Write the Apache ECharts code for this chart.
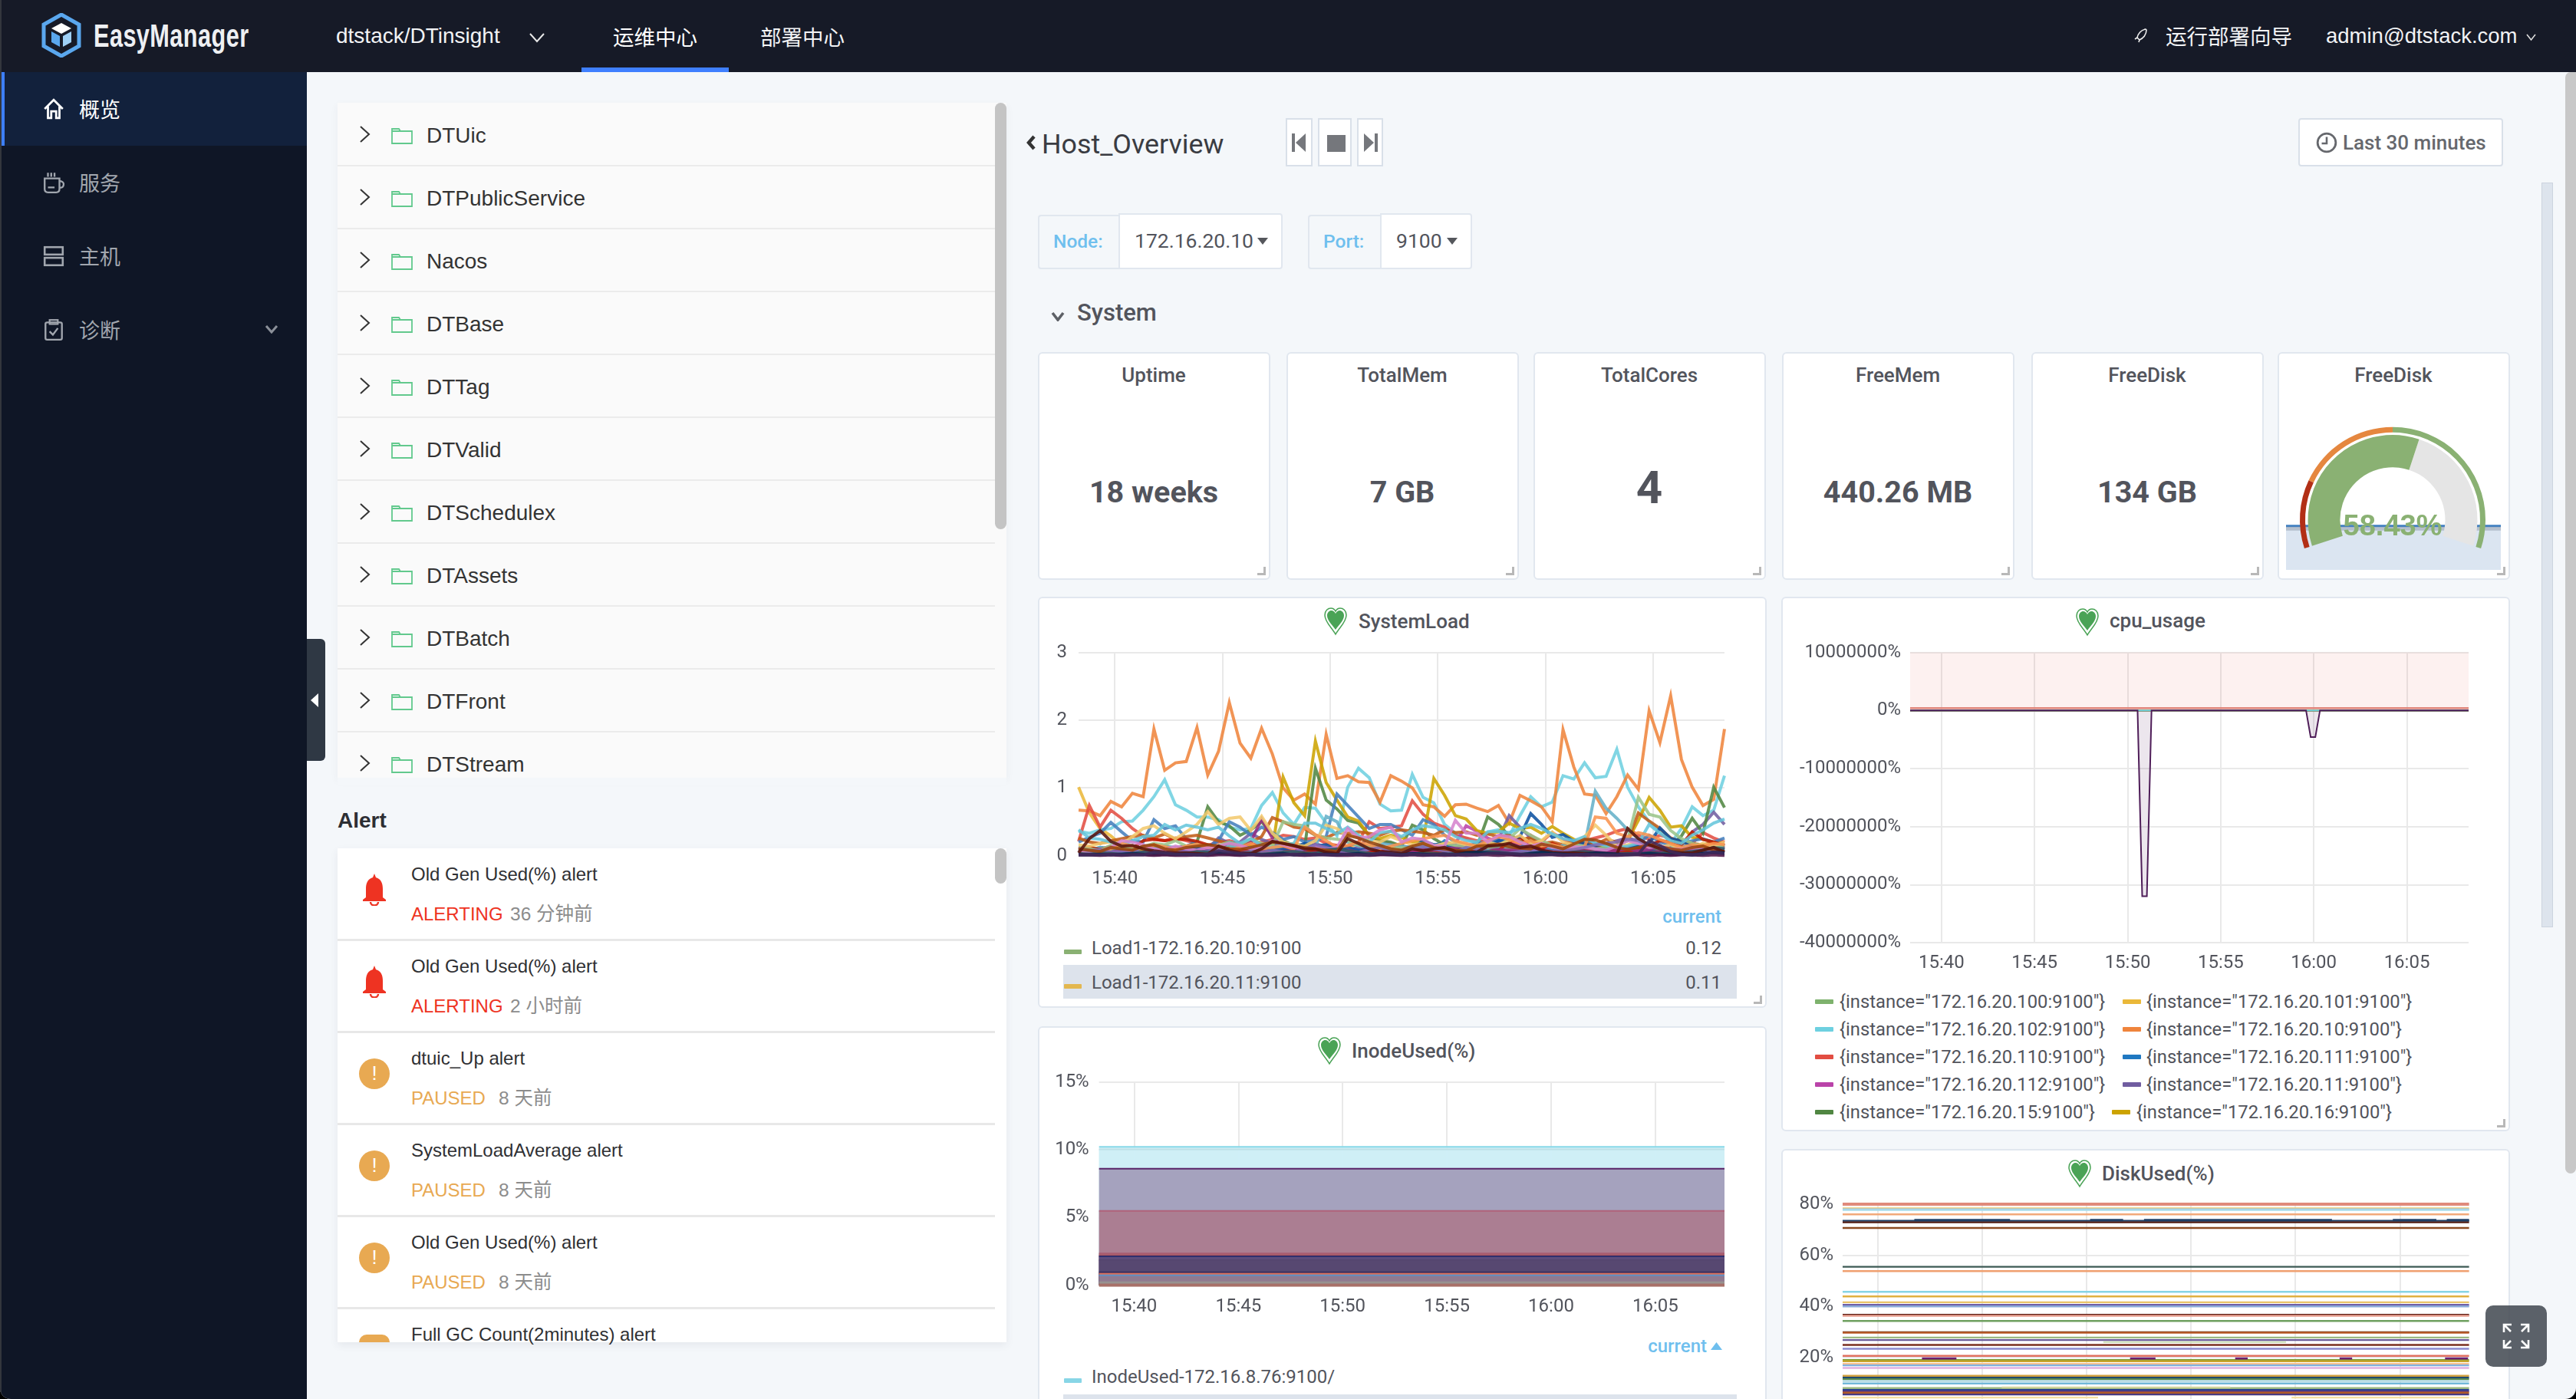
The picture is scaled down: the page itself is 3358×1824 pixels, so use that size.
<!DOCTYPE html>
<html><head><meta charset="utf-8">
<style>
html,body{margin:0;padding:0;background:#000;overflow:hidden}
#page{position:relative;width:3358px;height:1824px;overflow:hidden;background:#f4f7fa;font-family:"Liberation Sans","Noto Sans CJK SC",sans-serif;border-bottom-left-radius:14px;border-bottom-right-radius:14px}
.a{position:absolute;box-sizing:border-box}
.t{position:absolute;white-space:nowrap;line-height:1.2}
#chart{position:absolute;left:0;top:0;width:3358px;height:1824px;z-index:5}
</style>
<script src="https://cdn.jsdelivr.net/npm/echarts@6/dist/echarts.min.js"></script>
</head><body><div id="page"><div id="chart"></div></div>
<script>
// ---------- text content ----------
const navTabs = ['运维中心','部署中心'];
const sideItems = ['概览','服务','主机','诊断'];
const treeItems = ['DTUic','DTPublicService','Nacos','DTBase','DTTag','DTValid','DTSchedulex','DTAssets','DTBatch','DTFront','DTStream'];
const alertTitles = ['Old Gen Used(%) alert','Old Gen Used(%) alert','dtuic_Up alert','SystemLoadAverage alert','Old Gen Used(%) alert','Full GC Count(2minutes) alert'];
const alertStates = ['ALERTING','ALERTING','PAUSED','PAUSED','PAUSED','PAUSED'];
const alertAges = ['36 分钟前','2 小时前','8 天前','8 天前','8 天前',''];
const statTitles = ['Uptime','TotalMem','TotalCores','FreeMem','FreeDisk','FreeDisk'];
const statValues = ['18 weeks','7 GB','4','440.26 MB','134 GB'];
const cpuLegend = ['{instance="172.16.20.100:9100"}','{instance="172.16.20.101:9100"}','{instance="172.16.20.102:9100"}','{instance="172.16.20.10:9100"}','{instance="172.16.20.110:9100"}','{instance="172.16.20.111:9100"}','{instance="172.16.20.112:9100"}','{instance="172.16.20.11:9100"}','{instance="172.16.20.15:9100"}','{instance="172.16.20.16:9100"}'];
const loadLegend = ['Load1-172.16.20.10:9100','Load1-172.16.20.11:9100'];
const loadCurrent = ['0.12','0.11'];
const inodeLegend = ['InodeUsed-172.16.8.76:9100/'];
const xTickTimes = ['15:40:00','15:45:00','15:50:00','15:55:00','16:00:00','16:05:00'];

// ---------- SystemLoad values, one list per host, 30 s apart ----------
const load00=[.08,.06,.05,.08,.10,.07,.12,.09,.14,.10,.06,.08,.05,.07,.12,.09,.06,.10,.08,.05,.07,.10,.06,.08,.12,.07,.05,.09,.06,.08,.10,.06,.12,.08,.05,.07,.09,.06,.10,.08,.06,.05,.08,.14,.10,.06,.07,.05,.09,.06,.08,.12,.07,.05,.09,.06,.10,.12,.12,.08,.12];
const load01=[1.01,.63,.40,.29,.15,.12,.10,.12,.09,.10,.08,.10,.12,.09,.14,.16,.12,.10,.12,.15,.18,.14,.12,.10,.15,.12,.18,.14,.10,.12,.09,.10,.14,.12,.10,.08,.10,.12,.15,.10,.12,.14,.10,.08,.12,.10,.14,.12,.10,.08,.15,.10,.12,.14,.10,.12,.09,.10,.16,.14,.12];
const load02=[.36,.33,.38,.40,.50,.51,.67,.87,1.12,.75,.67,.57,.57,.53,.42,.38,.40,.74,.93,.63,.46,.71,.70,.48,.29,1.01,1.29,1.15,.76,.66,.67,1.20,.86,.78,.46,.33,.25,.18,.35,.38,.29,.59,.87,.72,.79,1.18,1.13,1.37,1.15,1.17,1.57,1.01,.72,.50,.37,.18,.40,.72,.59,.67,1.18];
const load03=[.67,.66,.59,.80,.72,.92,.87,1.87,1.26,1.37,1.39,1.89,1.19,1.54,2.26,1.66,1.44,1.88,1.50,1.00,.82,.91,.76,1.79,1.14,1.18,1.09,1.08,.79,1.18,1.10,1.00,.75,.72,.58,.75,.76,.70,.65,.74,.48,.89,.81,.72,.50,1.86,1.31,.91,.89,.62,.87,1.19,.98,2.14,1.67,2.36,1.42,1.01,.74,.83,1.87];
const load04=[.21,.74,.42,.67,.55,.40,.29,.24,.22,.26,.22,.18,.15,.20,.22,.18,.16,.20,.24,.30,.28,.24,.26,.18,.15,.14,.20,.50,.40,.42,.44,.81,.61,.48,.42,.30,.26,.22,.20,.18,.22,.16,.30,.20,.34,.24,.18,.22,.26,.30,.36,.40,.30,.24,.30,.26,.20,.18,.34,.26,.20];
const load05=[.09,.07,.12,.10,.06,.08,.05,.09,.07,.11,.06,.05,.08,.12,.09,.06,.10,.07,.05,.08,.06,.09,.12,.07,.10,.05,.08,.06,.11,.07,.09,.05,.07,.10,.22,.13,.08,.06,.07,.10,.05,.08,.06,.09,.07,.12,.10,.06,.05,.08,.07,.10,.06,.08,.11,.07,.09,.06,.05,.10,.08];
const load06=[.10,.13,.07,.05,.06,.08,.06,.08,.10,.06,.05,.08,.06,.10,.09,.07,.12,.08,.06,.09,.10,.14,.08,.06,.10,.07,.12,.09,.06,.08,.10,.07,.14,.09,.12,.18,.44,.36,.26,.20,.18,.14,.08,.10,.06,.08,.07,.05,.06,.09,.08,.12,.10,.14,.08,.10,.12,.08,.06,.07,.14];
const load07=[.08,.06,.10,.07,.09,.08,.06,.10,.09,.12,.14,.20,.10,.26,.18,.20,.33,.24,.18,.12,.15,.10,.18,.12,.10,.08,.12,.28,.22,.18,.14,.12,.15,.10,.12,.13,.14,.12,.16,.24,.59,.42,.26,.20,.14,.10,.12,.09,.13,.18,.22,.26,.22,.14,.12,.08,.10,.35,.46,.64,.46];
const load08=[.06,.05,.08,.07,.05,.06,.08,.07,.09,.10,.12,.20,.72,.50,.44,.30,.38,.50,.30,.22,.15,.12,1.29,.82,.69,.52,.48,.30,.22,.20,.14,.45,.38,.25,.16,.14,.12,.13,.57,.46,.29,.20,.24,.16,.12,.10,.09,.08,.10,.09,.08,.10,.15,.12,.10,.14,.29,.55,.33,1.01,.71];
const load09=[.08,.12,.10,.09,.07,.06,.10,.14,.09,.08,.11,.13,.10,.09,.07,.12,.15,.11,.09,1.16,.78,.59,1.69,1.08,.82,.57,.51,.29,.25,.30,.27,.20,.22,1.14,.89,.59,.54,.37,.33,.35,.48,.40,.42,.33,.43,.33,.24,.20,.16,.14,.18,.22,.52,.86,.67,.42,.44,.27,.24,.20,.18];
const load10=[.20,.27,.33,.49,.35,.22,.20,.53,.40,.44,.25,.18,.12,.22,.50,.42,.30,.42,.34,.24,.28,.20,.22,.28,.91,.74,.57,.40,.46,.46,.38,.30,.53,.46,.30,.20,.14,.18,.20,.22,.16,.12,.20,.14,.10,.12,.15,.20,.18,.16,.14,.12,.18,.30,.20,.15,.18,.22,.25,.20,.26];
const load11=[.26,.20,.18,.22,.25,.28,.30,.26,.32,.24,.28,.30,.26,.22,.18,.15,.20,.28,.56,.50,.42,.40,.30,.26,.34,.33,.35,.33,.30,.36,.38,.36,.34,.30,.38,.34,.35,.30,.32,.28,.30,.24,.26,.18,.20,.16,.22,.18,.16,.24,.20,.22,.63,.51,.40,.26,.20,.18,.16,.20,.14];
const load13=[.02,.03,.02,.04,.03,.02,.03,.05,.03,.02,.03,.02,.04,.03,.05,.02,.03,.06,.04,.03,.05,.03,.02,.04,.03,.05,.03,.02,.03,.02,.04,.03,.02,.05,.03,.02,.03,.06,.05,.04,.03,.02,.05,.03,.02,.04,.03,.02,.03,.05,.03,.02,.04,.03,.02,.03,.02,.03,.05,.04,.03];
const load14=[.07,.06,.04,.03,.05,.04,.03,.06,.04,.03,.05,.04,.03,.05,.07,.05,.04,.06,.08,.05,.04,.03,.06,.12,.09,.05,.03,.04,.06,.05,.03,.06,.05,.04,.03,.05,.07,.04,.06,.05,.07,.05,.03,.04,.06,.03,.05,.04,.03,.04,.03,.05,.04,.06,.05,.04,.03,.05,.07,.10,.12];
const load26=[.10,.08,.12,.09,.10,.08,.12,.10,.14,.12,.10,.14,.08,.12,.15,.10,.12,.14,.09,.12,.15,.10,.12,.58,.50,.20,.14,.12,.18,.16,.14,.12,.10,.16,.12,.14,.10,.12,.09,.14,.12,.10,.14,.16,.12,.15,.10,.14,.95,.70,.55,.38,.25,.14,.12,.10,.16,.12,.10,.14,.12];
const load28=[.10,.12,.09,.14,.12,.10,.22,.24,.22,.24,.24,.21,.16,.12,.10,.08,.10,.06,.08,.07,.05,.06,.09,.07,.10,.06,.05,.08,.06,.05,.07,.09,.06,.05,.08,.10,.07,.09,.06,.08,.20,.28,.15,.10,.18,.12,.09,.07,.12,.10,.08,.06,.10,.14,.22,.20,.16,.35,.24,.20,.15];
const load29=[.05,.04,.06,.05,.04,.05,.04,.06,.08,.05,.12,.10,.14,.10,.20,.16,.10,.12,.08,.10,.12,.18,.14,.16,.10,.12,.08,.10,.14,.10,.08,.10,.22,.16,.18,.10,.09,.14,.12,.22,.24,.28,.62,.46,.27,.31,.21,.18,.12,.10,.14,.12,.16,.18,.41,.25,.22,.15,.12,.10,.08];
const load30=[.12,.09,.06,.05,.08,.06,.05,.07,.06,.05,.08,.06,.10,.12,.08,.10,.20,.54,.26,.14,.10,.08,.16,.10,.06,.08,.05,.10,.12,.08,.07,.06,.09,.08,.10,.12,.14,.10,.12,.09,.08,.10,.12,.07,.05,.06,.09,.07,.05,.06,.08,.10,.07,.09,.14,.10,.07,.06,.09,.15,.18];
const load32=[.12,.10,.08,.15,.12,.10,.13,.18,.16,.22,.14,.16,.12,.15,.20,.16,.25,.18,.14,.50,.46,.44,.30,.26,.24,.22,.16,.14,.12,.10,.12,.10,.16,.14,.18,.15,.14,.16,.12,.14,.25,.40,.30,.22,.15,.12,.16,.14,.10,.12,.15,.22,.86,.61,.57,.37,.25,.18,.14,.12,.16];
const load33=[.16,.14,.18,.20,.16,.28,.40,.44,.33,.25,.35,.46,.65,.46,.55,.57,.37,.58,.33,.20,.16,.14,.22,.45,.40,.28,.30,.22,.20,.28,.22,.16,.18,.14,.18,.20,.16,.12,.20,.16,.22,.30,.18,.22,.35,.20,.16,.28,.45,.30,.14,.16,.20,.14,.12,.16,.10,.12,.18,.14,.20];
const load34=[.38,.26,.24,.20,.16,.22,.28,.30,.46,.38,.45,.42,.38,.42,.29,.18,.25,.15,.12,.16,.18,.48,.48,.40,.32,.42,.30,.20,.34,.36,.28,.38,.44,.42,.38,.28,.22,.20,.35,.36,.34,.40,.46,.40,.32,.25,.22,.28,.18,.15,.12,.14,.18,.46,.33,.22,.18,.30,.38,.48,.54];
const load35=[.05,.08,.06,.10,.18,.14,.10,.16,.13,.10,.14,.17,.12,.10,.08,.12,.18,.10,.12,.14,.10,.42,.31,.22,.12,.15,.20,.16,.10,.14,.18,.22,.25,.28,.30,.22,.18,.14,.22,.28,.24,.18,.22,.14,.16,.12,.10,.13,.57,.55,.33,.28,.34,.30,.24,.18,.12,.16,.14,.18,.16];
const load38=[.05,.04,.06,.12,.22,.20,.16,.10,.08,.14,.10,.08,.12,.14,.18,.15,.10,.12,.22,.16,.12,.10,.14,.10,.12,.40,.26,.28,.38,.42,.20,.26,.24,.15,.14,.52,.33,.33,.20,.30,.28,.20,.14,.18,.12,.10,.13,.12,.10,.08,.14,.22,.18,.12,.14,.10,.09,.12,.10,.08,.10];
const load39=[.10,.07,.09,.05,.06,.08,.04,.03,.04,.05,.06,.04,.07,.09,.05,.04,.06,.05,.08,.06,.05,.10,.16,.12,.08,.06,.05,.09,.12,.07,.06,.10,.14,.09,.07,.05,.12,.10,.06,.05,.04,.06,.08,.05,.06,.07,.09,.12,.16,.18,.20,.24,.22,.15,.10,.07,.05,.06,.08,.07,.09];
const load42=[.03,.02,.04,.03,.02,.03,.05,.04,.03,.02,.03,.06,.05,.04,.02,.03,.04,.02,.03,.05,.06,.04,.03,.08,.10,.07,.05,.03,.02,.04,.03,.02,.04,.03,.02,.03,.05,.04,.06,.05,.03,.02,.03,.04,.02,.03,.05,.06,.04,.03,.02,.03,.02,.04,.03,.05,.04,.06,.08,.12,.10];
const load43=[.10,.08,.06,.12,.10,.08,.14,.16,.10,.08,.12,.14,.16,.14,.10,.09,.12,.16,.20,.18,.14,.12,.10,.08,.06,.30,.26,.20,.15,.10,.08,.14,.18,.12,.10,.08,.07,.14,.15,.17,.13,.11,.10,.17,.14,.10,.17,.24,.23,.18,.12,.09,.12,.16,.13,.10,.08,.12,.14,.08,.06];
const load44=[.04,.25,.37,.21,.14,.15,.10,.07,.05,.04,.04,.03,.02,.14,.08,.04,.03,.10,.21,.18,.15,.10,.10,.05,.03,.25,.18,.10,.06,.05,.03,.10,.07,.10,.12,.06,.05,.05,.14,.15,.18,.12,.14,.08,.05,.04,.04,.03,.03,.03,.02,.40,.25,.16,.10,.06,.04,.04,.08,.12,.05];
const load45=[.01,.01,.02,.01,.02,.03,.02,.01,.02,.01,.02,.01,.01,.03,.02,.01,.02,.01,.02,.03,.01,.02,.01,.02,.01,.02,.03,.01,.02,.01,.01,.03,.02,.01,.02,.01,.04,.05,.04,.03,.02,.01,.03,.05,.03,.02,.01,.02,.04,.03,.02,.01,.02,.03,.02,.01,.02,.01,.03,.05,.04];
const load46=[.01,.01,.00,.01,.00,.01,.01,.00,.01,.00,.00,.01,.00,.01,.01,.00,.01,.00,.00,.01,.01,.00,.01,.01,.00,.00,.01,.00,.01,.01,.00,.01,.00,.01,.00,.01,.00,.01,.01,.00,.01,.00,.00,.01,.01,.00,.01,.00,.01,.00,.00,.01,.01,.00,.01,.00,.01,.01,.00,.01,.00];
const load47=[.01,.01,.01,.02,.01,.01,.01,.05,.04,.02,.02,.01,.02,.07,.05,.03,.02,.01,.01,.01,.02,.01,.02,.01,.01,.02,.01,.01,.04,.03,.01,.02,.01,.01,.02,.01,.02,.01,.03,.04,.03,.02,.01,.01,.02,.01,.01,.02,.01,.01,.01,.02,.02,.22,.15,.06,.02,.01,.02,.05,.03];
const loadValues=[load00,load01,load02,load03,load04,load05,load06,load07,load08,load09,load10,load11,load13,load14,load26,load28,load29,load30,load32,load33,load34,load35,load38,load39,load42,load43,load44,load45,load46,load47];
const loadColors=['#7EB26D','#EAB839','#6ED0E0','#EF843C','#E24D42','#1F78C1','#BA43A9','#705DA0','#508642','#CCA300','#447EBC','#C15C17','#0A437C','#6D1F62','#64B0C8','#BF1B00','#0A50A1','#962D82','#9AC48A','#F2C96D','#65C5DB','#F9934E','#D683CE','#806EB7','#2F575E','#99440A','#58140C','#052B51','#511749','#3F2B5B'];

// ---------- cpu_usage ----------
const cpuFlatValue=[0,0];
const cpuFlatTimes=['15:38:19','16:08:19'];
const cpuColors=['#7EB26D','#EAB839','#6ED0E0','#EF843C','#E24D42','#1F78C1','#BA43A9','#705DA0','#508642','#CCA300'];
const cpuDrawOrder=[0,1,3,4,5,6,7,8,9,2];
const cpuTopValue=[400000,400000];
const cpuSpikeTimes=['15:38:19','15:50:32','15:50:47','15:51:02','15:51:17','15:59:35','15:59:50','16:00:05','16:00:20','16:08:19'];
const cpuSpikeValues=[0,0,-32000000,-32000000,0,0,-4600000,-4600000,0,0];

// ---------- InodeUsed levels, top to bottom ----------
const inodeLevels=[10.22,10.03,8.6,5.49,2.34,2.2,2.13,1.86,.98,.85,.74,.23,.05,0];
const inodeLine=['#86d8e8','#bcdfe6','#5a2468','#b0637a','#a85c70','#a8505c','#2f2f6e','#54466f','#3f3363','#e07058','#5f8fc4','#97938f','#a87068','#a87068'];
const inodeFill=['#cfeff6','#cfeff6','#a19cb9','#ab7b8e','#a9697c','#3f3f73','#5f4f7d','#574870','#3f3363','#8e7b8e','#907b90','#979090','#a87068','#a87068'];

// ---------- DiskUsed levels ----------
const diskLevels=[80,78.4,78,77.7,76,73.5,72.9,70.7,55.5,53.8,45.7,43.9,41.6,40.6,40,36.7,36.3,34.3,29.9,29.7,27.8,26.8,24.9,23.4,20.6,19,18.5,17.5,16.9,15.9,12.8,12.1,11.5,10.8,9.8,8,7.3,6.7,6.2,5.5];
const diskColors=['#e08a7c','#ecc870','#9fc8e8','#a8dcec','#f2a97a','#1e3f66','#4f1a10','#8b4a20','#3c5a55','#f0a070','#86d4e4','#e0b040','#e9c46a','#6f5ea6','#8aaad8','#5a1a10','#e8a090','#6fa060','#4f2a18','#b85a28','#9ab880','#6a5a9a','#7a3020','#8a8ad0','#e07060','#7a9a30','#c9a52e','#f5c090','#80b0e0','#e0b0e0','#d0a040','#1e4a70','#5a8a4d','#b0d8e0','#70b8d8','#9ab880','#2a3f90','#5a3a80','#b05a28','#4a3a80'];
const diskNavyTimes=['15:41:45','15:46:20',null,'15:50:10','15:51:45',null,'15:52:45','16:01:45',null,'16:04:40','16:06:45',null,'16:07:15','16:08:19'];
const diskNavyValue=73.8;
const diskMagentaTimes=['15:42:07','15:43:46',null,'15:52:05','15:53:18',null,'15:57:07','15:57:43',null,'16:02:07','16:02:43',null,'16:07:10','16:08:16'];
const diskMagentaValue=19.6;
const diskPaleGreenTimes=['15:50:48','15:59:33'];
const diskPaleGreenValue=26;
const diskKhakiTimes=['15:45:56','15:56:53'];
const diskKhakiValue=8.3;
const diskPaleYellowTimes=['15:38:19','15:50:33',null,'15:59:49','16:08:19'];
const diskPaleYellowValue=4.3;

// ---------- FreeDisk gauge ----------
const gaugeValue=58.43;
const sparkBlue=[.97,.97,.97,.97,.97,.97,.97,.97,.97,.97,.97,.97];
const sparkGray=[.91,.91,.91,.91,.91,.91,.91,.91,.91,.91,.91,.91];

// ---------- small DOM helpers for the application chrome ----------
const page=document.getElementById('page');
function R(x,y,w,h,bg,extra){const d=document.createElement('div');d.className='a';d.style.cssText=`left:${x}px;top:${y}px;width:${w}px;height:${h}px;background:${bg};${extra||''}`;page.appendChild(d);return d}
function T(x,y,s,size,color,o){o=o||{};const d=document.createElement('div');d.className='t';d.textContent=s;const tx=o.a==='c'?'-50%':o.a==='r'?'-100%':'0';
 d.style.cssText=`left:${x}px;top:${y}px;font-size:${size}px;color:${color};transform:translate(${tx},-50%) ${o.sx?`scaleX(${o.sx})`:''};transform-origin:left center;font-weight:${o.w||400};font-family:${o.f||'inherit'};${o.z?`z-index:${o.z};`:''}${o.ls?`letter-spacing:${o.ls}px;`:''}`;page.appendChild(d);return d}
function S(x,y,w,h,vb,inner,z){const d=document.createElement('div');d.className='a';d.style.cssText=`left:${x}px;top:${y}px;width:${w}px;height:${h}px;${z?`z-index:${z};`:''}`;d.innerHTML=`<svg width="${w}" height="${h}" viewBox="${vb}" style="display:block">${inner}</svg>`;page.appendChild(d)}
const RB='Roboto,"Noto Sans CJK SC",sans-serif',INK='#52545c',BLUE='#6fbfee',BORDER='#e1e7ef';
function chev(x,y,w,h,c,sw){S(x-w/2-2,y-h/2-2,w+4,h+4,`0 0 ${w+4} ${h+4}`,`<polyline points="2,2 ${w/2+2},${h+2} ${w+2},2" fill="none" stroke="${c}" stroke-width="${sw||2}"/>`)}
function chevR(x,y){S(x-8,y-12,16,24,'0 0 16 24','<polyline points="2,2 13,12 2,22" fill="none" stroke="#333" stroke-width="2"/>')}
function heart(x,y){S(x-16,y-18,32,38,'0 0 32 38','<path d="M16 36 C11 27 2 20 2 11 C2 5 6 2 10 2 C13 2 15 4 16 6 C17 4 19 2 22 2 C26 2 30 5 30 11 C30 20 21 27 16 36Z" fill="#fff" stroke="#4aa356" stroke-width="1.5"/><path d="M16 30 C12 24 5 18 5 11.5 C5 7.5 8 5 10.5 5 C13 5 15 7 16 9 C17 7 19 5 21.5 5 C24 5 27 7.5 27 11.5 C27 18 20 24 16 30Z" fill="#4aa356"/>')}
function corner(r,b){R(r-17,b-17,11,11,'transparent','border-right:3px solid #b8b8b8;border-bottom:3px solid #b8b8b8')}
function panel(x,y,w,h){R(x,y,w,h,'#fff',`border:2px solid ${BORDER};border-radius:6px`)}

// top bar + sidebar
R(0,0,3358,94,'#161a27');
R(0,94,400,1730,'#0f1626');
R(0,94,400,96,'#12213c');R(0,94,6,96,'#3d7fff');
R(0,0,2,1824,'#33363d');
S(54,17,52,58,'0 0 52 58','<polygon points="26,2 49,15 49,43 26,56 3,43 3,15" fill="none" stroke="#5aa7ee" stroke-width="5"/><polygon points="26,13 39,20 26,27 13,20" fill="#fff"/><polygon points="13,24 24,30 24,44 13,38" fill="#5aa7ee"/><polygon points="39,24 28,30 28,44 39,38" fill="#9fd0f6"/>');
T(122,47,'EasyManager',42,'#eef0f3',{w:700,sx:.73,ls:.6});
T(438,47,'dtstack/DTinsight',28,'#f2f3f5');chev(700,49,18,10,'#e8e8e8',2);
T(799,47,navTabs[0],27.5,'#fff',{f:'"Noto Sans CJK SC"'});T(991,47,navTabs[1],27.5,'#f2f3f5',{f:'"Noto Sans CJK SC"'});
R(758,88,192,6,'#3f7fff');
S(2782,36,18,20,'0 0 18 20','<path d="M15 2 C9 3 5 8 4 13 L7 16 C12 14 16 9 16 3Z" fill="none" stroke="#eee" stroke-width="1.6"/><path d="M4 13 L1 15 M7 16 L6 19" stroke="#eee" stroke-width="1.6"/>');
T(2823,46,'运行部署向导',27.5,'#f2f3f5',{f:'"Noto Sans CJK SC"'});
T(3032,46,'admin@dtstack.com',27.5,'#f2f3f5');chev(3299,48,11,7,'#ddd',1.6);

const sideY=[142,238,334,430];
sideItems.forEach((s,i)=>T(103,sideY[i],s,27,i?'#a1a6ae':'#fff',{f:'"Noto Sans CJK SC"'}));
const ic=i=>i?'#a1a6ae':'#fff';
S(55,127,30,30,'0 0 28 28',`<path d="M3 14 L14 3 L25 14 M7 11 V25 H11 V17 H17 V25 H21 V11" fill="none" stroke="${ic(0)}" stroke-width="2.6"/>`);
S(55,223,30,30,'0 0 28 28',`<path d="M3 9 H21 V22 Q21 26 17 26 H7 Q3 26 3 22Z M21 12 Q27 13 26 17 Q25 21 21 20 M7 7 V2 M11 7 V2 M15 7 V2 M7 20 H15" fill="none" stroke="${ic(1)}" stroke-width="2.2"/>`);
S(55,319,30,30,'0 0 28 28',`<rect x="3" y="3" width="22" height="9" fill="none" stroke="${ic(2)}" stroke-width="2.4"/><rect x="3" y="16" width="22" height="9" fill="none" stroke="${ic(2)}" stroke-width="2.4"/>`);
S(55,415,30,30,'0 0 28 28',`<rect x="4" y="5" width="20" height="21" rx="2" fill="none" stroke="${ic(3)}" stroke-width="2.2"/><rect x="9" y="2" width="10" height="5" fill="none" stroke="${ic(3)}" stroke-width="2"/><polyline points="9,16 13,20 19,12" fill="none" stroke="${ic(3)}" stroke-width="2.2"/>`);
chev(354,429,14,8,'#8b9099',3);
R(400,833,24,159,'#2f3844','border-radius:0 6px 6px 0');
S(404,903,12,20,'0 0 12 20','<polygon points="11,1 1,10 11,19" fill="#fff"/>');

// tree
R(440,134,872,880,'#fafafa','box-shadow:0 4px 10px rgba(60,70,90,.06)');
treeItems.forEach((s,i)=>{const y=176.5+i*82;
 if(i<10)R(440,y+38.5,857,2,'#ebebeb');
 chevR(476,y-2);
 S(510,y-13,28,24,'0 0 28 24','<path d="M1 4 H10 L12 7 H27 V23 H1Z M1 7 H12" fill="none" stroke="#62c98d" stroke-width="1.8"/>');
 T(556,y,s,28,'#333');});
R(1297,134,15,556,'#c4c4c4','border-radius:8px');
R(440,1014,872,10,'#f4f7fa');

// alerts
T(440,1069.5,'Alert',28,'#2c2e33',{w:700});
R(440,1106,872,644,'#fff','box-shadow:0 4px 10px rgba(60,70,90,.08);overflow:hidden');
alertTitles.forEach((s,i)=>{const y=1140+i*120;
 if(i<5)R(440,y+84,857,2.5,'#e8e8e8');
 T(536,y,s,24,'#2f3033');
 if(i<5){const c=i<2?'#ee3322':'#e8a952';
  T(536,y+51.5,alertStates[i],24,c);
  T(i<2?665:650,y+51.5,alertAges[i],24.5,'#8c8c8c',{f:'"Liberation Sans","Noto Sans CJK SC"'});
  if(i<2)S(473,y-1,30,42,'0 0 30 42','<path d="M15 0 L17 5 C24 7 26 13 26 20 V31 L30 34 V36 H0 V34 L4 31 V20 C4 13 6 7 13 5Z" fill="#ee3322"/><path d="M10 37 C10 43 20 43 20 37" fill="none" stroke="#ee3322" stroke-width="2.5"/>');
  else{R(468,y,40,40,c,'border-radius:50%');T(488,y+20,'!',26,'#fff',{a:'c'});}
 }});
R(468,1740,40,10,'#e8a952','border-radius:20px 20px 0 0');
R(1297,1106,15,46,'#c4c4c4','border-radius:8px');

// right pane header
S(1338,176,12,20,'0 0 12 20','<polyline points="10,2 3,10 10,18" fill="none" stroke="#333" stroke-width="4.4"/>');
T(1358,188,'Host_Overview',35.8,'#3a3c42',{f:RB});
[[1676,35],[1718,44],[1769,34]].forEach(b=>R(b[0],154,b[1],63,'#fff',`border:2px solid #d9e0e9`));
S(1684,174,20,24,'0 0 20 24','<rect x="0" y="0" width="4" height="24" fill="#75777c"/><polygon points="18,0 18,24 5,12" fill="#75777c"/>');
R(1730,176,24,22,'#75777c');
S(1777,174,20,24,'0 0 20 24','<rect x="15" y="0" width="4" height="24" fill="#75777c"/><polygon points="1,0 1,24 14,12" fill="#75777c"/>');
R(2996,154,267,63,'#fff','border:2px solid #d9e0e9;border-radius:4px');
S(3019,172,28,28,'0 0 26 26','<circle cx="13" cy="13" r="11" fill="none" stroke="#66686d" stroke-width="2.6"/><polyline points="13,6 13,14 7,14" fill="none" stroke="#66686d" stroke-width="2.4"/>');
T(3054,187,'Last 30 minutes',26,'#66686d',{f:RB,w:500});

R(3313,238,15,971,'#dde4ed','border:1px solid #ccd4df');
R(3344,94,14,1436,'#c8c8c8','border-radius:10px 0 10px 10px');

// selectors
R(1353,280,105,71,'#f4f7fa',`border:2px solid ${BORDER};border-right:none;border-radius:4px 0 0 4px`);
R(1458,278,214,73,'#fff',`border:2px solid ${BORDER};border-radius:0 4px 4px 0`);
T(1373,315,'Node:',24.5,BLUE,{f:RB,w:500});T(1479,314,'172.16.20.10',26.5,INK,{f:RB});
S(1639,310,14,9,'0 0 14 9','<polygon points="0,0 14,0 7,9" fill="#55575c"/>');
R(1705,280,94,71,'#f4f7fa',`border:2px solid ${BORDER};border-right:none;border-radius:4px 0 0 4px`);
R(1799,278,120,73,'#fff',`border:2px solid ${BORDER};border-radius:0 4px 4px 0`);
T(1725,315,'Port:',24.5,BLUE,{f:RB,w:500});T(1820,314,'9100',26.5,INK,{f:RB});
S(1886,310,14,9,'0 0 14 9','<polygon points="0,0 14,0 7,9" fill="#55575c"/>');
chev(1379,412,14,9,'#5d6066',3.6);
T(1404,408,'System',31,'#52545c',{f:RB,w:500});

// stat panels
const statX=[1353,1677,1999,2323,2648,2969];
statX.forEach((x,i)=>{panel(x,459,303,297);corner(x+303,756);
 T(x+151,489.5,statTitles[i],26,INK,{a:'c',f:RB,w:500});
 if(i<5)T(x+151,i==2?636:642,statValues[i],i==2?60:39.5,INK,{a:'c',f:RB,w:700});});

// chart panels
panel(1353,778,950,536);corner(2303,1315);heart(1741,809);
T(1771,811,'SystemLoad',26,INK,{f:RB,w:500});
T(2244,1195,'current',24,BLUE,{a:'r',f:RB,w:500});
R(1386,1258,878,44,'#dde3ec');
[['#8ab173',1235.5],['#e3b74f',1281]].forEach((r,i)=>{R(1387,r[1]+2,23,6,r[0],'border-radius:1px');
 T(1423,r[1],loadLegend[i],24,INK,{f:RB});T(2244,r[1],loadCurrent[i],24,INK,{a:'r',f:RB});});

panel(2322,778,950,697);corner(3272,1476);heart(2720.5,810);
T(2750,810,'cpu_usage',26,INK,{f:RB,w:500});
const legY=[1306,1341.6,1378,1413.5,1449.6];
cpuLegend.forEach((s,i)=>{const row=i>>1,col=i&1,y=legY[row];
 const sx=col?(row==4?2753:2767):2366,tx=col?(row==4?2785:2798):2398;
 R(sx,y-3,23.5,6,cpuColors[i],'border-radius:1px');T(tx,y,s,23.8,INK,{f:RB});});

panel(1353,1338,950,600);heart(1733,1369);
T(1762,1371,'InodeUsed(%)',26,INK,{f:RB,w:500});
T(2225,1755,'current',24,BLUE,{a:'r',f:RB,w:500});
S(2230,1750,15,10,'0 0 15 10','<polygon points="7.5,0 15,10 0,10" fill="'+BLUE+'"/>');
R(1387,1797,23,6,'#88d6e6','border-radius:1px');T(1423,1795,inodeLegend[0],24,INK,{f:RB});
R(1386,1818,878,10,'#dde3ec');

panel(2322,1498,950,400);heart(2710.6,1529);
T(2740,1531,'DiskUsed(%)',26,INK,{f:RB,w:500});

// fullscreen button
R(3240,1702,80,80,'rgba(70,76,84,.88)','border-radius:10px;z-index:6');
S(3262,1725,36,34,'0 0 36 34','<g fill="none" stroke="#fff" stroke-width="2.6"><path d="M2 12 V2 H12 M2 2 L11 11"/><path d="M34 12 V2 H24 M34 2 L25 11"/><path d="M2 22 V32 H12 M2 32 L11 23"/><path d="M34 22 V32 H24 M34 32 L25 23"/></g>',7);

// ---------- the charts, all in one ECharts instance with page-pixel grids ----------
const tm=s=>{if(s===null)return null;const p=s.split(':').map(Number);return new Date(2021,5,1,p[0],p[1],p[2]).getTime()};
const winStart=tm('15:38:19'),winEnd=tm('16:08:19');
const xTicks=xTickTimes.map(tm);
const lab={fontFamily:'Roboto',fontSize:24,color:INK};
const gridSplit={show:true,lineStyle:{color:'#e9e9e9',width:2}};
const hhmm=v=>{const d=new Date(v);return String(d.getHours()).padStart(2,'0')+':'+String(d.getMinutes()).padStart(2,'0')};
function xAx(i,margin){return {type:'value',gridIndex:i,min:winStart,max:winEnd,axisLine:{show:false},axisTick:{show:false,customValues:xTicks},
 axisLabel:Object.assign({show:true,customValues:xTicks,formatter:hhmm,margin:margin,hideOverlap:false},lab),
 splitLine:gridSplit}}
function yAx(i,min,max,step,margin,pct,pad){return {type:'value',gridIndex:i,min,max,interval:step,axisLine:{show:false},axisTick:{show:false},
 axisLabel:Object.assign({margin,padding:[pad||0,0,0,0],formatter:pct?(v=>v+'%'):(v=>String(v)),showMinLabel:true,showMaxLabel:true},lab),splitLine:gridSplit}}
const line=(g,name,data,color,width,extra)=>Object.assign({type:'line',name,xAxisIndex:g,yAxisIndex:g,data,showSymbol:false,symbol:'none',connectNulls:false,silent:true,
 lineStyle:{color,width,join:'miter'},itemStyle:{color}},extra||{});
const flat=v=>[[winStart,v],[winEnd,v]];
const at=(times,v)=>times.map(t=>[t===null?null:tm(t),t===null?null:v]);

const series=[];
// SystemLoad
loadValues.forEach((vals,k)=>series.push(line(0,'load'+k,vals.map((v,i)=>[winStart+i*30000,v]),loadColors[k],4,{lineStyle:{color:loadColors[k],width:4,opacity:.87,join:'miter'}})));
// cpu_usage
cpuDrawOrder.forEach(k=>series.push(line(1,cpuLegend[k],cpuFlatTimes.map((t,i)=>[tm(t),cpuFlatValue[i]]),cpuColors[k],2)));
series.push(line(1,'cpuTop',cpuFlatTimes.map((t,i)=>[tm(t),cpuTopValue[i]]),'#e0857a',2.5,{markArea:{silent:true,itemStyle:{color:'rgba(226,77,66,.08)'},data:[[{yAxis:10000000},{yAxis:0}]]}}));
series.push(line(1,'cpuSpike',cpuSpikeTimes.map((t,i)=>[tm(t),cpuSpikeValues[i]]),'#4e1d58',2,{areaStyle:{color:'rgba(78,29,88,.11)',opacity:1}}));
// InodeUsed
inodeLevels.forEach((v,k)=>series.push(line(2,'inode'+k,flat(v),inodeLine[k],k==13?4:2,{areaStyle:{color:inodeFill[k],opacity:.93}})));
// DiskUsed
diskLevels.forEach((v,k)=>series.push(line(3,'disk'+k,flat(v),diskColors[k],k==0?4:2.4)));
series.push(line(3,'diskNavy',at(diskNavyTimes,diskNavyValue),'#1e3f66',3));
series.push(line(3,'diskMagenta',at(diskMagentaTimes,diskMagentaValue),'#6a2070',2.6));
series.push(line(3,'diskPaleGreen',at(diskPaleGreenTimes,diskPaleGreenValue),'#c8dcb0',2));
series.push(line(3,'diskKhaki',at(diskKhakiTimes,diskKhakiValue),'#d8d8a0',2));
series.push(line(3,'diskPaleYellow',at(diskPaleYellowTimes,diskPaleYellowValue),'#f5dfa0',2.4));
// FreeDisk sparkline behind gauge
series.push(Object.assign(line(4,'sparkFill',sparkBlue,'#3f7fc1',3),{areaStyle:{color:'#dbe5f1',opacity:1}}));
series.push(line(4,'sparkShade',sparkGray,'rgba(150,160,175,.55)',5));
// gauge
const gaugeBase={type:'gauge',center:[3119,677.7],startAngle:198,endAngle:-18,min:0,max:100,pointer:{show:false},axisTick:{show:false},splitLine:{show:false},axisLabel:{show:false},anchor:{show:false},title:{show:false},silent:true,z:10};
series.push(Object.assign({},gaugeBase,{name:'thresholds',radius:121,axisLine:{lineStyle:{width:7,color:[[.2,'#b22f16'],[.5,'#e5873f'],[1,'#8ab173']]}},detail:{show:false},data:[{value:gaugeValue}]}));
series.push(Object.assign({},gaugeBase,{name:'FreeDisk',radius:110.5,axisLine:{lineStyle:{width:42,color:[[gaugeValue/100,'#8ab173'],[1,'#e5e5e5']]}},
 detail:{show:true,valueAnimation:false,formatter:v=>v.toFixed(2)+'%',fontFamily:'"Liberation Sans"',fontWeight:700,fontSize:38,color:'#8ab173',offsetCenter:[0,10]},data:[{value:gaugeValue}]}));

const chart=echarts.init(document.getElementById('chart'),null,{renderer:'canvas'});
chart.setOption({animation:false,backgroundColor:'transparent',
 grid:[
  {left:1406,top:850.7,width:842,height:264.8,outerBoundsMode:'none'},
  {left:2490,top:850.5,width:728,height:378.5,outerBoundsMode:'none'},
  {left:1432.7,top:1410.7,width:815.3,height:265,outerBoundsMode:'none'},
  {left:2402,top:1570,width:816.6,height:266.4,outerBoundsMode:'none'},
  {left:2980,top:684,width:280,height:59,outerBoundsMode:'none'}],
 xAxis:[xAx(0,18),xAx(1,15),xAx(2,16),xAx(3,15),{type:'category',gridIndex:4,show:false,boundaryGap:false,data:sparkBlue.map((v,i)=>i)}],
 yAxis:[yAx(0,0,3,1,15,false,3),yAx(1,-40000000,10000000,10000000,12,true,3),yAx(2,0,15,5,13,true,0),yAx(3,0,80,20,12,true,0),{type:'value',gridIndex:4,show:false,min:0,max:1}],
 series});
</script></body></html>
